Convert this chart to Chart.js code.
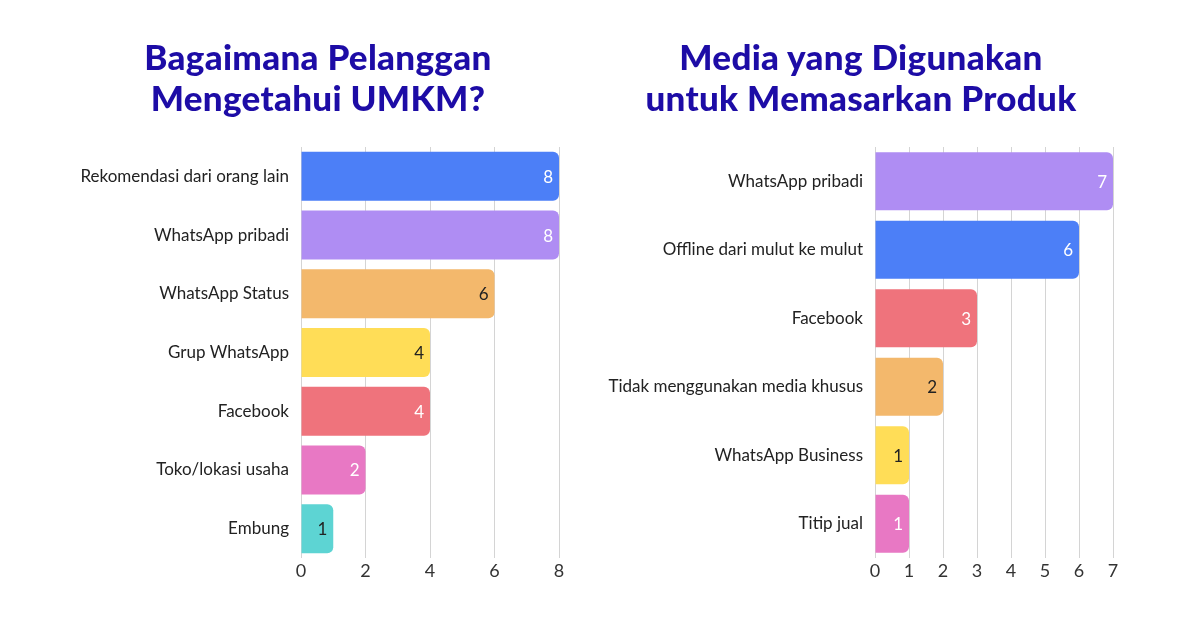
<!DOCTYPE html>
<html>
<head>
<meta charset="utf-8">
<script src="https://cdn.jsdelivr.net/npm/chart.js@4.4.0/dist/chart.umd.min.js"></script>
<style>
    html, body { margin: 0; padding: 0; background: #fff; }
    #wrap { position: relative; width: 1200px; height: 630px; overflow: hidden; }
    .panel { position: absolute; top: 0; width: 600px; height: 630px; }
    .title {
        position: absolute; top: 36px; width: 600px; text-align: center;
        font-family: 'Lato', sans-serif; font-weight: 900; font-size: 35px;
        line-height: 41px; color: #1d0ca6; letter-spacing: 0.3px;
    }
</style>
</head>
<body>
<div id="wrap">
    <div class="panel" style="left:0">
        <canvas id="leftChart" width="600" height="630"></canvas>
    </div>
    <div class="panel" style="left:600px">
        <canvas id="rightChart" width="600" height="630"></canvas>
    </div>
    <div class="title" style="left:18px">Bagaimana Pelanggan<br>Mengetahui UMKM?</div>
    <div class="title" style="left:561px">Media yang Digunakan<br>untuk Memasarkan Produk</div>
</div>
<script>
// Chart 1: Bagaimana Pelanggan Mengetahui UMKM?
const leftLabels = ['Rekomendasi dari orang lain', 'WhatsApp pribadi', 'WhatsApp Status', 'Grup WhatsApp', 'Facebook', 'Toko/lokasi usaha', 'Embung'];
const leftValues = [8, 8, 6, 4, 4, 2, 1];
const leftColors = ['#4c7ff7', '#af8df3', '#f3b86c', '#ffdd57', '#ef737c', '#e878c4', '#5dd4d3'];
const leftLabelColors = ['#ffffff', '#ffffff', '#222222', '#222222', '#ffffff', '#ffffff', '#222222'];

// Chart 2: Media yang Digunakan untuk Memasarkan Produk
const rightLabels = ['WhatsApp pribadi', 'Offline dari mulut ke mulut', 'Facebook', 'Tidak menggunakan media khusus', 'WhatsApp Business', 'Titip jual'];
const rightValues = [7, 6, 3, 2, 1, 1];
const rightColors = ['#af8df3', '#4c7ff7', '#ef737c', '#f3b86c', '#ffdd57', '#e878c4'];
const rightLabelColors = ['#ffffff', '#ffffff', '#ffffff', '#222222', '#222222', '#ffffff'];

// Value labels drawn inside the end of each bar
const valueLabels = {
    id: 'valueLabels',
    afterDatasetsDraw(chart, args, opts) {
        const ctx = chart.ctx;
        const meta = chart.getDatasetMeta(0);
        ctx.save();
        ctx.font = '17px Lato, sans-serif';
        ctx.textAlign = 'right';
        ctx.textBaseline = 'middle';
        meta.data.forEach((bar, i) => {
            ctx.fillStyle = opts.colors[i];
            ctx.fillText(chart.data.datasets[0].data[i], bar.x - 6, bar.y + 1);
        });
        ctx.restore();
    }
};

function makeChart(id, labels, values, colors, labelColors, max, step, axisWidth, padRight, barPct) {
    new Chart(document.getElementById(id), {
        type: 'bar',
        data: {
            labels: labels,
            datasets: [{
                data: values,
                backgroundColor: colors,
                borderRadius: 6,
                borderSkipped: 'start',
                barPercentage: barPct,
                categoryPercentage: 1
            }]
        },
        plugins: [valueLabels],
        options: {
            indexAxis: 'y',
            responsive: false,
            animation: false,
            layout: { padding: { top: 147, right: padRight, bottom: 0, left: 0 } },
            plugins: {
                legend: { display: false },
                tooltip: { enabled: false },
                valueLabels: { colors: labelColors }
            },
            scales: {
                x: {
                    min: 0,
                    max: max,
                    afterFit: scale => { scale.height = 72; },
                    grid: { color: '#d4d4d4', lineWidth: 1, drawTicks: false },
                    border: { display: false },
                    ticks: {
                        stepSize: step,
                        padding: 2,
                        color: '#333333',
                        font: { family: 'Lato', size: 18 }
                    }
                },
                y: {
                    afterFit: scale => { scale.width = axisWidth; },
                    grid: { display: false },
                    border: { display: false },
                    ticks: {
                        padding: 4,
                        color: '#222222',
                        font: { family: 'Lato', size: 17 }
                    }
                }
            }
        }
    });
}

makeChart('leftChart', leftLabels, leftValues, leftColors, leftLabelColors, 8, 2, 301, 41, 0.835);
makeChart('rightChart', rightLabels, rightValues, rightColors, rightLabelColors, 7, 1, 275, 87, 0.845);
</script>
</body>
</html>
